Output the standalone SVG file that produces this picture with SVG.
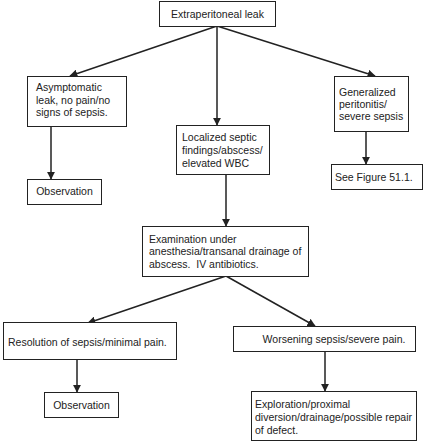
<svg xmlns="http://www.w3.org/2000/svg" width="434" height="443" viewBox="0 0 434 443">
<style>
rect{fill:#fff;stroke:#222;stroke-width:1}
text{font-family:"Liberation Sans",Arial,sans-serif;font-size:10.5px;fill:#222}
.c line{stroke:#222;stroke-width:1.5;marker-end:url(#ah)}
</style>
<defs><marker id="ah" viewBox="0 0 10 10" refX="9" refY="5" markerWidth="5.5" markerHeight="5.5" orient="auto" markerUnits="strokeWidth"><path d="M0,0L10,5L0,10z" fill="#222"/></marker></defs>
<rect x="0" y="0" width="434" height="443" style="fill:#fff;stroke:none"/>
<g class="c">
<line x1="217" y1="26" x2="70" y2="76"/>
<line x1="217" y1="26" x2="217" y2="125"/>
<line x1="217" y1="26" x2="375" y2="76"/>
<line x1="51" y1="127" x2="51" y2="179"/>
<line x1="366" y1="132" x2="366" y2="164"/>
<line x1="226" y1="174" x2="226" y2="226"/>
<line x1="226" y1="276" x2="88" y2="323"/>
<line x1="226" y1="276" x2="315" y2="326"/>
<line x1="77" y1="359" x2="77" y2="392"/>
<line x1="325" y1="351" x2="325" y2="391"/>
</g>
<g id="n1"><rect x="159.5" y="1.5" width="116" height="25"/><text x="217.5" y="18" text-anchor="middle">Extraperitoneal leak</text></g>
<g id="n2"><rect x="27.5" y="76.5" width="99" height="50"/><text x="36" y="91">Asymptomatic</text><text x="36" y="104">leak, no pain/no</text><text x="36" y="116">signs of sepsis.</text></g>
<g id="n3"><rect x="176.5" y="125.5" width="93" height="49"/><text x="182" y="141">Localized septic</text><text x="182" y="154">findings/abscess/</text><text x="182" y="167">elevated WBC</text></g>
<g id="n4"><rect x="334.5" y="76.5" width="74" height="55"/><text x="339" y="96">Generalized</text><text x="339" y="108">peritonitis/</text><text x="339" y="120">severe sepsis</text></g>
<g id="n5"><rect x="27.5" y="179.5" width="74" height="25"/><text x="64.5" y="195" text-anchor="middle">Observation</text></g>
<g id="n6"><rect x="331.5" y="164.5" width="91" height="25"/><text x="335" y="181">See Figure 51.1.</text></g>
<g id="n7"><rect x="142.5" y="226.5" width="166" height="50"/><text x="149" y="243">Examination under</text><text x="149" y="255">anesthesia/transanal drainage of</text><text x="149" y="268">abscess.&#160; IV antibiotics.</text></g>
<g id="n8"><rect x="3.5" y="322.5" width="173" height="37"/><text x="8" y="346">Resolution of sepsis/minimal pain.</text></g>
<g id="n9"><rect x="233.5" y="326.5" width="182" height="25"/><text x="334" y="343" text-anchor="middle">Worsening sepsis/severe pain.</text></g>
<g id="n10"><rect x="44.5" y="392.5" width="74" height="25"/><text x="81.5" y="409" text-anchor="middle">Observation</text></g>
<g id="n11"><rect x="251.5" y="391.5" width="165" height="49"/><text x="255" y="408">Exploration/proximal</text><text x="255" y="421">diversion/drainage/possible repair</text><text x="255" y="434">of defect.</text></g>
</svg>
